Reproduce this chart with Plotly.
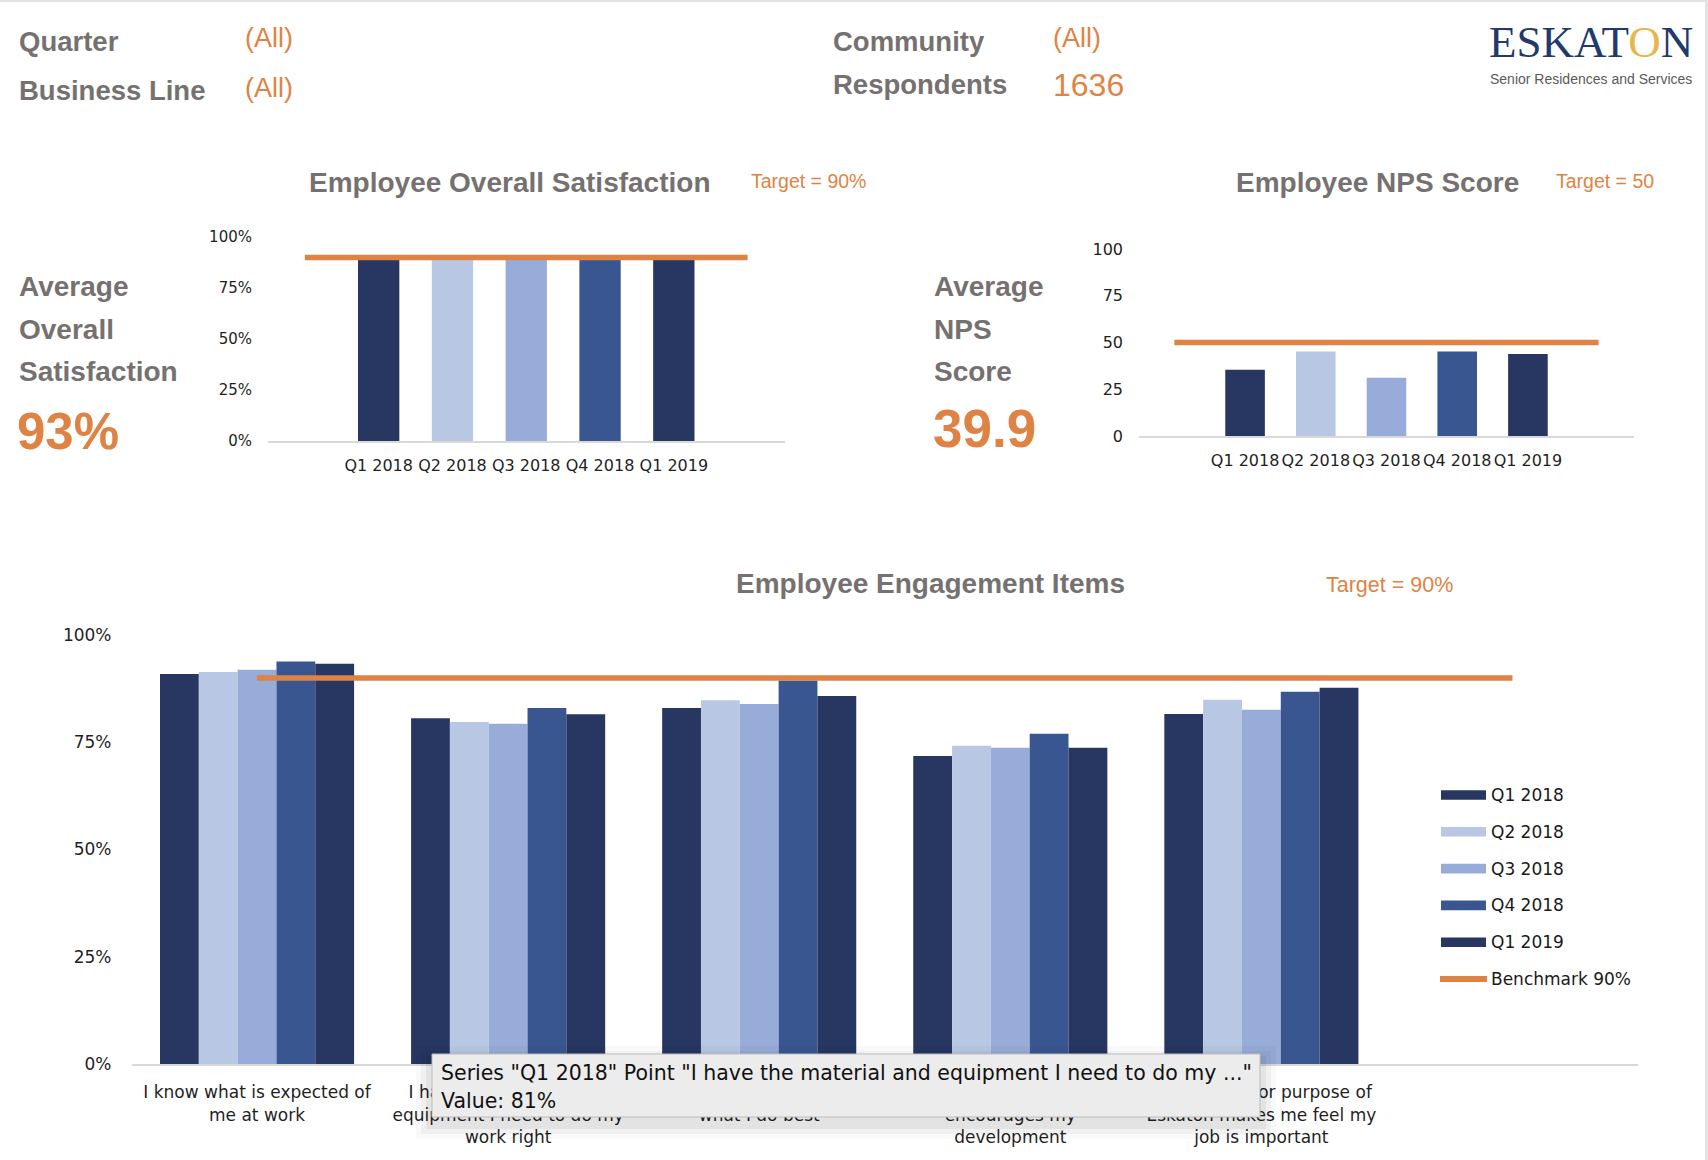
import plotly.graph_objects as go

# ---------------- data ----------------
quarters = ["Q1 2018", "Q2 2018", "Q3 2018", "Q4 2018", "Q1 2019"]
overall_satisfaction = [0.89, 0.89, 0.89, 0.89, 0.89]
nps_scores = [35.4, 45.2, 31.1, 45.2, 43.9]
sat_target = 0.90
nps_target = 50
engagement_target = 0.90

engagement_items = [
    "I know what is expected of<br>me at work",
    "I have the material and<br>equipment I need to do my<br>work right",
    "I have the opportunity to do<br>what I do best",
    "There is someone at work who<br>encourages my<br>development",
    "The mission or purpose of<br>Eskaton makes me feel my<br>job is important",
]
eng_q1_2018 = [0.909, 0.806, 0.830, 0.718, 0.816]
eng_q2_2018 = [0.914, 0.797, 0.848, 0.742, 0.849]
eng_q3_2018 = [0.919, 0.793, 0.839, 0.737, 0.826]
eng_q4_2018 = [0.938, 0.830, 0.894, 0.770, 0.868]
eng_q1_2019 = [0.933, 0.815, 0.858, 0.737, 0.877]
engagement_series = [eng_q1_2018, eng_q2_2018, eng_q3_2018, eng_q4_2018, eng_q1_2019]

pct_ticks = [0, 0.25, 0.5, 0.75, 1.0]
nps_ticks = [0, 25, 50, 75, 100]

# ---------------- style ----------------
W, H = 1708, 1160
series_colors = ["#273762", "#B8C8E4", "#98ACD9", "#3A5691", "#273762"]
ORANGE = "#DF8344"
GRAY = "#767171"
SANS = "Liberation Sans, Arial, sans-serif"
TICKF = "DejaVu Sans, Verdana, sans-serif"


def px_x(p):
    return p / W


def px_y(p):
    return 1 - p / H


fig = go.Figure()

# ---- chart 1: overall satisfaction ----
idx = list(range(len(quarters)))
fig.add_trace(go.Bar(x=idx, y=overall_satisfaction, marker=dict(color=series_colors, line=dict(width=0)),
                     width=0.56, xaxis="x", yaxis="y", showlegend=False))
fig.add_trace(go.Scatter(x=[-1, len(quarters)], y=[sat_target, sat_target], mode="lines",
                         line=dict(color=ORANGE, width=5.5), xaxis="x", yaxis="y", showlegend=False))

# ---- chart 2: NPS ----
fig.add_trace(go.Bar(x=idx, y=nps_scores, marker=dict(color=series_colors, line=dict(width=0)),
                     width=0.56, xaxis="x2", yaxis="y2", showlegend=False))
fig.add_trace(go.Scatter(x=[-1, len(quarters)], y=[nps_target, nps_target], mode="lines",
                         line=dict(color=ORANGE, width=5.5), xaxis="x2", yaxis="y2", showlegend=False))

# ---- chart 3: engagement ----
eidx = list(range(len(engagement_items)))
for name, vals, col in zip(quarters, engagement_series, series_colors):
    fig.add_trace(go.Bar(x=eidx, y=vals, name=name, marker=dict(color=col, line=dict(width=0)),
                         xaxis="x3", yaxis="y3", showlegend=False))
fig.add_trace(go.Scatter(x=[0, len(engagement_items)], y=[engagement_target, engagement_target],
                         mode="lines", name="Benchmark 90%", line=dict(color=ORANGE, width=5.5),
                         xaxis="x3", yaxis="y3", showlegend=False))

axis_common = dict(showgrid=False, zeroline=False, ticks="", fixedrange=True, automargin=False)

fig.update_layout(
    template="none",
    width=W, height=H, margin=dict(l=0, r=0, t=0, b=0, pad=0),
    paper_bgcolor="white", plot_bgcolor="white",
    barmode="group", bargap=0.227, bargroupgap=0,
    xaxis=dict(domain=[px_x(268), px_x(784.5)], range=[-1.5, len(quarters) + 0.5],
               tickvals=idx, ticktext=quarters, showline=True, linecolor="#D9D9D9", linewidth=2,
               tickfont=dict(family=TICKF, size=16, color="#1F1F1F"), ticklabelstandoff=9,
               tickangle=0, anchor="y", **axis_common),
    yaxis=dict(domain=[px_y(441), px_y(237)], range=[0, 1], tickvals=pct_ticks, tickformat=".0%",
               tickfont=dict(family=TICKF, size=15, color="#1F1F1F"), ticklabelstandoff=15,
               showline=False, anchor="x", **axis_common),
    xaxis2=dict(domain=[px_x(1139), px_x(1634)], range=[-1.5, len(quarters) + 0.5],
                tickvals=idx, ticktext=quarters, showline=True, linecolor="#D9D9D9", linewidth=2,
                tickfont=dict(family=TICKF, size=16, color="#1F1F1F"), ticklabelstandoff=9,
                tickangle=0, anchor="y2", **axis_common),
    yaxis2=dict(domain=[px_y(436), px_y(249)], range=[0, 100], tickvals=nps_ticks,
                tickfont=dict(family=TICKF, size=16, color="#1F1F1F"), ticklabelstandoff=15,
                showline=False, anchor="x2", **axis_common),
    xaxis3=dict(domain=[px_x(131.5), px_x(1638)], range=[-0.5, len(engagement_items) + 0.5],
                tickvals=eidx, ticktext=engagement_items, showline=True, linecolor="#D9D9D9", linewidth=2,
                tickfont=dict(family=TICKF, size=17, color="#1F1F1F"), ticklabelstandoff=12,
                tickangle=0, anchor="y3", **axis_common),
    yaxis3=dict(domain=[px_y(1064), px_y(635)], range=[0, 1], tickvals=pct_ticks, tickformat=".0%",
                tickfont=dict(family=TICKF, size=17, color="#1F1F1F"), ticklabelstandoff=19,
                showline=False, anchor="x3", **axis_common),
)

annotations = []
shapes = []


def txt(text, x, y, size, color, family=SANS, xanchor="left", bold=False):
    t = f"<b>{text}</b>" if bold else text
    annotations.append(dict(text=t, x=px_x(x), y=px_y(y), xref="paper", yref="paper",
                            xanchor=xanchor, yanchor="middle", showarrow=False,
                            font=dict(family=family, size=size, color=color)))


# header
txt("Quarter", 17, 41, 27.5, GRAY, bold=True)
txt("(All)", 243, 38, 27, ORANGE)
txt("Business Line", 17, 91, 27.5, GRAY, bold=True)
txt("(All)", 243, 88, 27, ORANGE)
txt("Community", 831, 41, 27.5, GRAY, bold=True)
txt("(All)", 1051, 38, 27, ORANGE)
txt("Respondents", 831, 84, 27.5, GRAY, bold=True)
txt("1636", 1051, 85, 32, ORANGE)

# logo
txt("ESKAT<span style='color:#E6B84C'>O</span>N", 1487, 42, 45, "#1F3A6B",
    family="Liberation Serif, DejaVu Serif, serif")
txt("Senior Residences and Services", 1488, 79, 14, "#5A5A5A")

# chart 1 side text & titles
txt("Employee Overall Satisfaction", 510, 182, 28, GRAY, xanchor="center", bold=True)
txt("Target = 90%", 749, 181, 19.5, ORANGE)
txt("Average", 17, 287, 28, GRAY, bold=True)
txt("Overall", 17, 329, 28, GRAY, bold=True)
txt("Satisfaction", 17, 371, 28, GRAY, bold=True)
txt("93%", 15, 431, 51, ORANGE, bold=True)

# chart 2 side text & titles
txt("Employee NPS Score", 1377, 182, 28, GRAY, xanchor="center", bold=True)
txt("Target = 50", 1554, 181, 19.5, ORANGE)
txt("Average", 932, 287, 28, GRAY, bold=True)
txt("NPS", 932, 329, 28, GRAY, bold=True)
txt("Score", 932, 371, 28, GRAY, bold=True)
txt("39.9", 931, 429, 53, ORANGE, bold=True)

# chart 3 titles
txt("Employee Engagement Items", 930, 583, 28, GRAY, xanchor="center", bold=True)
txt("Target = 90%", 1324, 585, 21.5, ORANGE)

# custom legend
leg_y0, leg_dy = 795, 36.8
for i, (name, col) in enumerate(zip(quarters, series_colors)):
    yc = leg_y0 + i * leg_dy
    shapes.append(dict(type="rect", xref="paper", yref="paper", x0=px_x(1441), x1=px_x(1486),
                       y0=px_y(yc + 4.8), y1=px_y(yc - 4.8), fillcolor=col, line=dict(width=0)))
    txt(name, 1489, yc, 17, "#1A1A1A", family=TICKF)
yb = leg_y0 + len(quarters) * leg_dy
shapes.append(dict(type="line", xref="paper", yref="paper", x0=px_x(1440), x1=px_x(1487),
                   y0=px_y(yb), y1=px_y(yb), line=dict(color=ORANGE, width=6)))
txt("Benchmark 90%", 1489, yb, 17, "#1A1A1A", family=TICKF)

# tooltip overlay
bx0, bx1, by0, by1 = 432, 1260, 1054, 1117
for k, a in enumerate([0.025, 0.035, 0.05]):
    g = 16 - 5 * k
    shapes.append(dict(type="rect", xref="paper", yref="paper", layer="above",
                       x0=px_x(bx0 - g), x1=px_x(bx1 + g), y0=px_y(by1 + g + 6), y1=px_y(by0 - g + 8),
                       fillcolor=f"rgba(0,0,0,{a})", line=dict(width=0)))
shapes.append(dict(type="rect", xref="paper", yref="paper", layer="above",
                   x0=px_x(bx0), x1=px_x(bx1), y0=px_y(by1), y1=px_y(by0),
                   fillcolor="#ECECEC", line=dict(color="#BDBDBD", width=1)))
txt("Series \"Q1 2018\" Point \"I have the material and equipment I need to do my ...\"",
    439, 1073, 20.5, "#111111", family=TICKF)
txt(f"Value: {eng_q1_2018[1]:.0%}", 439, 1101, 20.5, "#111111", family=TICKF)

# page borders
shapes.append(dict(type="rect", xref="paper", yref="paper", x0=0, x1=1, y0=px_y(2), y1=1,
                   fillcolor="#E3E3E3", line=dict(width=0)))
shapes.append(dict(type="rect", xref="paper", yref="paper", x0=px_x(1705), x1=1, y0=0, y1=1,
                   fillcolor="#E3E3E3", line=dict(width=0)))

fig.update_layout(annotations=annotations, shapes=shapes)
fig.write_html("out.html")
